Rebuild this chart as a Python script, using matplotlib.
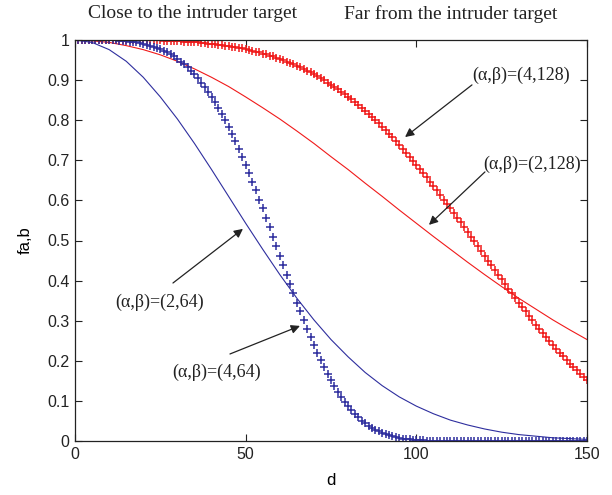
import numpy as np
import matplotlib
matplotlib.use('Agg')
import matplotlib.pyplot as plt

# distance axis
d_marks = np.arange(0, 151)        # one '+' per unit of d
d_lines = np.arange(0, 151, 5)     # thin curves

# (alpha, beta) = (4, 64), '+' markers, blue
f_4_64 = [
    1.000, 1.000, 1.000, 1.000, 1.000, 1.000, 1.000, 1.000, 1.000, 1.000,
    0.999, 0.999, 0.999, 0.998, 0.998, 0.997, 0.996, 0.995, 0.994, 0.992,
    0.991, 0.988, 0.986, 0.983, 0.980, 0.977, 0.973, 0.969, 0.964, 0.959,
    0.953, 0.946, 0.939, 0.932, 0.923, 0.914, 0.905, 0.894, 0.883, 0.871,
    0.858, 0.845, 0.831, 0.816, 0.800, 0.783, 0.766, 0.748, 0.729, 0.709,
    0.689, 0.668, 0.647, 0.625, 0.602, 0.580, 0.556, 0.533, 0.509, 0.486,
    0.462, 0.438, 0.414, 0.391, 0.368, 0.345, 0.323, 0.301, 0.280, 0.259,
    0.239, 0.220, 0.202, 0.184, 0.167, 0.152, 0.137, 0.123, 0.110, 0.098,
    0.087, 0.077, 0.068, 0.059, 0.051, 0.045, 0.038, 0.033, 0.028, 0.024,
    0.020, 0.017, 0.014, 0.012, 0.010, 0.008, 0.006, 0.005, 0.004, 0.003,
    0.003, 0.002, 0.002, 0.001, 0.001, 0.001, 0.001, 0.000, 0.000, 0.000,
    0.000, 0.000, 0.000, 0.000, 0.000, 0.000, 0.000, 0.000, 0.000, 0.000,
    0.000, 0.000, 0.000, 0.000, 0.000, 0.000, 0.000, 0.000, 0.000, 0.000,
    0.000, 0.000, 0.000, 0.000, 0.000, 0.000, 0.000, 0.000, 0.000, 0.000,
    0.000, 0.000, 0.000, 0.000, 0.000, 0.000, 0.000, 0.000, 0.000, 0.000,
    0.000,
]

# (alpha, beta) = (4, 128), '+' markers, red
f_4_128 = [
    1.000, 1.000, 1.000, 1.000, 1.000, 1.000, 1.000, 1.000, 1.000, 1.000,
    1.000, 1.000, 1.000, 1.000, 1.000, 1.000, 1.000, 1.000, 1.000, 1.000,
    0.999, 0.999, 0.999, 0.999, 0.999, 0.999, 0.998, 0.998, 0.998, 0.997,
    0.997, 0.997, 0.996, 0.996, 0.995, 0.994, 0.994, 0.993, 0.992, 0.991,
    0.991, 0.990, 0.988, 0.987, 0.986, 0.985, 0.983, 0.982, 0.980, 0.979,
    0.977, 0.975, 0.973, 0.971, 0.969, 0.966, 0.964, 0.961, 0.959, 0.956,
    0.953, 0.950, 0.946, 0.943, 0.939, 0.936, 0.932, 0.928, 0.923, 0.919,
    0.914, 0.910, 0.905, 0.900, 0.894, 0.889, 0.883, 0.877, 0.871, 0.865,
    0.858, 0.852, 0.845, 0.838, 0.831, 0.823, 0.816, 0.808, 0.800, 0.792,
    0.783, 0.775, 0.766, 0.757, 0.748, 0.738, 0.729, 0.719, 0.709, 0.699,
    0.689, 0.679, 0.668, 0.658, 0.647, 0.636, 0.625, 0.614, 0.602, 0.591,
    0.580, 0.568, 0.556, 0.545, 0.533, 0.521, 0.509, 0.498, 0.486, 0.474,
    0.462, 0.450, 0.438, 0.426, 0.414, 0.403, 0.391, 0.379, 0.368, 0.356,
    0.345, 0.334, 0.323, 0.312, 0.301, 0.290, 0.280, 0.269, 0.259, 0.249,
    0.239, 0.229, 0.220, 0.211, 0.202, 0.193, 0.184, 0.176, 0.167, 0.159,
    0.152,
]

# (alpha, beta) = (2, 64), thin line, blue
f_2_64 = [1.000, 0.994, 0.976, 0.947, 0.907, 0.858, 0.803, 0.742, 0.677, 0.610,
          0.543, 0.478, 0.415, 0.356, 0.302, 0.253, 0.210, 0.171, 0.138, 0.110,
          0.087, 0.068, 0.052, 0.040, 0.030, 0.022, 0.016, 0.012, 0.008, 0.006,
          0.004]

# (alpha, beta) = (2, 128), thin line, red
f_2_128 = [1.000, 0.998, 0.994, 0.986, 0.976, 0.963, 0.947, 0.928, 0.907, 0.884,
           0.858, 0.831, 0.803, 0.773, 0.742, 0.709, 0.677, 0.643, 0.610, 0.576,
           0.543, 0.510, 0.478, 0.446, 0.415, 0.385, 0.356, 0.329, 0.302, 0.277,
           0.253]

top_labels = ['Close to the intruder target', 'Far from the intruder target']

# annotations: label, text anchor (left, middle), arrow tail, arrow head
notes = [
    ('(\u03b1,\u03b2)=(4,128)', (116.3, 0.913), (116.3, 0.888), (96.7, 0.758)),
    ('(\u03b1,\u03b2)=(2,128)', (119.5, 0.691), (120.1, 0.671), (103.7, 0.539)),
    ('(\u03b1,\u03b2)=(2,64)', (11.7, 0.347), (28.7, 0.394), (49.2, 0.529)),
    ('(\u03b1,\u03b2)=(4,64)', (28.4, 0.172), (45.4, 0.217), (65.9, 0.287)),
]

blue = '#2e2e9e'
red = '#f01a1a'

fig = plt.figure(figsize=(6.12, 4.95), dpi=100)
ax = fig.add_axes([75 / 612, 54 / 495, 512 / 612, 401 / 495])

ax.plot(d_lines, f_2_128, color=red, lw=0.8)
ax.plot(d_marks, f_4_128, color=red, ls='none', marker='+', ms=6, mew=1.1)
ax.plot(d_lines, f_2_64, color=blue, lw=0.8)
ax.plot(d_marks, f_4_64, color=blue, ls='none', marker='+', ms=6, mew=1.1)

ax.set_xlim(0, 150)
ax.set_ylim(0, 1)
ax.set_xticks([0, 50, 100, 150])
ax.set_yticks(np.arange(0, 1.01, 0.1))
ax.set_yticklabels(['0', '0.1', '0.2', '0.3', '0.4', '0.5', '0.6', '0.7', '0.8', '0.9', '1'])
ax.tick_params(direction='in', length=5, width=0.8, top=True, right=True,
               labelsize=11.5, colors='#222222', pad=4)
for tl in ax.get_xticklabels() + ax.get_yticklabels():
    tl.set_family('Liberation Sans')
for s in ax.spines.values():
    s.set_linewidth(0.9)
    s.set_color('#222222')

ax.set_xlabel('d', fontsize=12, family='Liberation Sans', labelpad=8)
ax.set_ylabel('fa,b', fontsize=12, family='Liberation Sans', labelpad=10)

for lab, tpos, tail, head in notes:
    ax.text(tpos[0], tpos[1], lab, fontsize=13, family='Liberation Serif',
            ha='left', va='center', color='#222222')
    ax.annotate('', xy=head, xytext=tail,
                arrowprops=dict(arrowstyle='-|>', color='#222222', lw=0.9,
                                mutation_scale=13, shrinkA=0, shrinkB=0))

fig.text(193 / 612, 1 - 14 / 495, top_labels[0], fontsize=14,
         family='Liberation Serif', ha='center', va='center', color='#222222')
fig.text(451 / 612, 1 - 14 / 495, top_labels[1], fontsize=14,
         family='Liberation Serif', ha='center', va='center', color='#222222')

fig.savefig('out.png', dpi=100)
